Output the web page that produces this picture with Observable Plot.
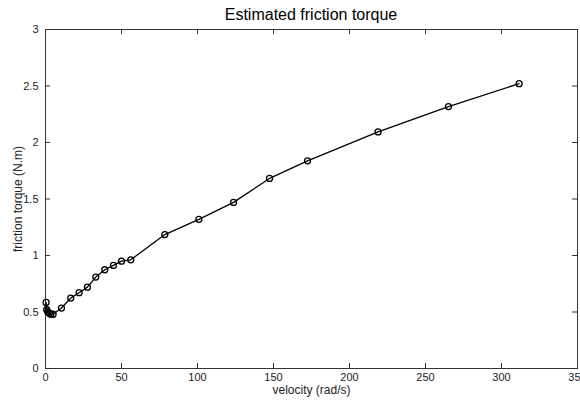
<!DOCTYPE html>
<html>
<head>
<meta charset="utf-8">
<script src="https://cdn.jsdelivr.net/npm/d3@7"></script>
<script src="https://cdn.jsdelivr.net/npm/@observablehq/plot@0.6"></script>
<style>
  html, body { margin: 0; padding: 0; background: #fff; }
  body { width: 580px; height: 403px; overflow: hidden; font-family: "Liberation Sans", Arial, sans-serif; }
  #title { height: 24px; width: 580px; font-size: 16px; text-align: center; padding-left: 42px; box-sizing: border-box; line-height: 17px; padding-top: 6px; color: #000; }
  #chart svg { display: block; }
</style>
</head>
<body>
<div id="title">Estimated friction torque</div>
<div id="chart"></div>
<script>
const velocity = [0.4, 0.8, 1.5, 2.5, 3.5, 5, 10.5, 16.6, 22.1, 27.6, 33.1, 39, 44.7, 50, 56.1, 78.5, 100.9, 123.7, 147.4, 172.4, 218.8, 265.1, 311.6];
const torque   = [0.585, 0.52, 0.50, 0.49, 0.48, 0.48, 0.535, 0.623, 0.671, 0.72, 0.809, 0.874, 0.912, 0.95, 0.962, 1.185, 1.32, 1.47, 1.682, 1.838, 2.094, 2.318, 2.521];
const xTicks = [0, 50, 100, 150, 200, 250, 300, 350];
const yTicks = [0, 0.5, 1, 1.5, 2, 2.5, 3];
const xLabel = "velocity (rad/s)";
const yLabel = "friction torque (N.m)";

const data = velocity.map((v, i) => ({v, t: torque[i]}));

const W = 580, H = 379, mT = 5, mB = 35, mL = 45, mR = 3;
const innerH = H - mT - mB, innerW = W - mL - mR;
const tk = 5;
const axisColor = "#333";
const fmt = d => String(d);

const chart = Plot.plot({
  width: W, height: H,
  marginTop: mT, marginBottom: mB, marginLeft: mL, marginRight: mR,
  style: {fontFamily: "'Liberation Sans', Arial, sans-serif", fontSize: "11px", color: "#000", background: "#fff"},
  x: {domain: [0, 350], ticks: xTicks},
  y: {domain: [0, 3], ticks: yTicks},
  marks: [
    Plot.frame({stroke: axisColor, strokeWidth: 1}),
    Plot.tickX(xTicks, {x: d => d, insetTop: innerH - tk, stroke: axisColor}),
    Plot.tickX(xTicks, {x: d => d, insetBottom: innerH - tk, stroke: axisColor}),
    Plot.tickY(yTicks, {y: d => d, insetRight: innerW - tk, stroke: axisColor}),
    Plot.tickY(yTicks, {y: d => d, insetLeft: innerW - tk, stroke: axisColor}),
    Plot.axisX({ticks: xTicks, tickFormat: fmt, tickSize: 0, tickPadding: 5, label: null, fill: "#222", fontSize: 11}),
    Plot.axisY({ticks: yTicks, tickFormat: fmt, tickSize: 0, tickPadding: 7, label: null, fill: "#222", fontSize: 11}),
    Plot.text([xLabel], {frameAnchor: "bottom", dy: 25, text: d => d, textAnchor: "middle", fill: "#222", fontSize: 12}),
    Plot.text([yLabel], {frameAnchor: "left", dx: -27, rotate: -90, text: d => d, textAnchor: "middle", fill: "#222", fontSize: 12}),
    Plot.line(data, {x: "v", y: "t", stroke: "#000", strokeWidth: 1.3}),
    Plot.dot(data, {x: "v", y: "t", r: 3, stroke: "#000", strokeWidth: 1.3, fill: "none"})
  ]
});
document.getElementById("chart").appendChild(chart);
</script>
</body>
</html>
